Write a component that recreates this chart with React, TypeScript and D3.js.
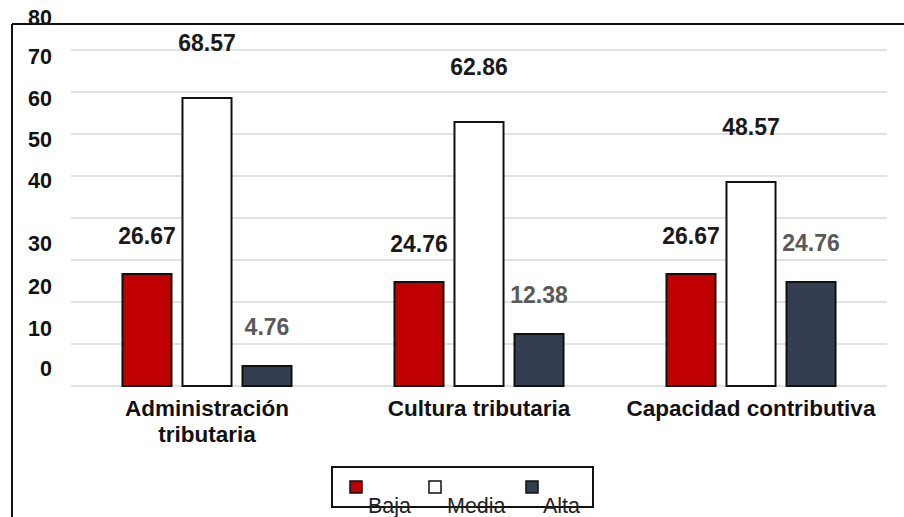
import React from "react";
import * as d3 from "d3";

const categories: string[][] = [
  ["Administración", "tributaria"],
  ["Cultura tributaria"],
  ["Capacidad contributiva"],
];
const series = ["Baja", "Media", "Alta"];
const baja = [26.67, 24.76, 26.67];
const media = [68.57, 62.86, 48.57];
const alta = [4.76, 12.38, 24.76];
const yTicks = [0, 10, 20, 30, 40, 50, 60, 70, 80];

const seriesValues = [baja, media, alta];
const colors = ["#C00000", "#FFFFFF", "#333F50"];
const labelColors = ["#1a1a1a", "#1a1a1a", "#595959"];
// vertical lift of value labels above bar tops, per series
const labelLift = [38, 55, 39];
// tick label shifts above their gridline (as in the reference)
const tickShift = [18, 16, 16, 17, 38, 37, 36, 36, 33];

const W = 904;
const H = 517;
const FONT = "'Liberation Sans', Arial, Helvetica, sans-serif";

export default function App() {
  const y = d3.scaleLinear().domain([0, 80]).range([386, 50]);
  const x0 = d3
    .scaleBand<number>()
    .domain(d3.range(categories.length))
    .range([71, 887])
    .padding(0);
  const x1 = d3
    .scaleBand<number>()
    .domain(d3.range(series.length))
    .range([0, x0.bandwidth()])
    .paddingInner(0.183)
    .paddingOuter(0.858);

  return (
    <svg
      width={W}
      height={H}
      style={{ position: "absolute", left: 0, top: 0, background: "#fff" }}
      fontFamily={FONT}
    >
      <rect x={0} y={0} width={W} height={H} fill="#fff" />
      {/* gridlines */}
      {yTicks.map((t) => (
        <line
          key={"g" + t}
          x1={71}
          x2={887}
          y1={y(t)}
          y2={y(t)}
          stroke="#d9d9d9"
          strokeWidth={1.5}
        />
      ))}
      {/* frame */}
      <line x1={12} x2={W} y1={24} y2={24} stroke="#111" strokeWidth={2} />
      <line x1={12} x2={12} y1={24} y2={H} stroke="#111" strokeWidth={2} />
      {/* y tick labels */}
      {yTicks.map((t, i) => (
        <text
          key={"t" + t}
          x={52}
          y={y(t) - tickShift[i] + 7.5}
          textAnchor="end"
          fontSize={21.5}
          fontWeight="bold"
          fill="#111"
        >
          {t}
        </text>
      ))}
      {/* bars */}
      {categories.map((c, ci) =>
        seriesValues.map((vals, si) => {
          const v = vals[ci];
          const bx = (x0(ci) as number) + (x1(si) as number);
          return (
            <rect
              key={"b" + ci + "-" + si}
              x={bx}
              y={y(v)}
              width={x1.bandwidth()}
              height={y(0) - y(v)}
              fill={colors[si]}
              stroke="#111"
              strokeWidth={2}
            />
          );
        })
      )}
      {/* value labels */}
      {categories.map((c, ci) =>
        seriesValues.map((vals, si) => {
          const v = vals[ci];
          const cx = (x0(ci) as number) + (x1(si) as number) + x1.bandwidth() / 2;
          return (
            <text
              key={"l" + ci + "-" + si}
              x={cx}
              y={y(v) - labelLift[si] + 8}
              textAnchor="middle"
              fontSize={23}
              fontWeight="bold"
              fill={labelColors[si]}
            >
              {v.toFixed(2)}
            </text>
          );
        })
      )}
      {/* category labels */}
      {categories.map((lines, ci) => {
        const cx = (x0(ci) as number) + x0.bandwidth() / 2;
        return (
          <text
            key={"c" + ci}
            textAnchor="middle"
            fontSize={22.5}
            fontWeight="bold"
            fill="#111"
          >
            {lines.map((ln, li) => (
              <tspan key={li} x={cx} y={416 + li * 26}>
                {ln}
              </tspan>
            ))}
          </text>
        );
      })}
      {/* legend */}
      <rect
        x={332}
        y={467}
        width={261}
        height={40}
        fill="#fff"
        stroke="#111"
        strokeWidth={2}
      />
      {series.map((s, si) => {
        const mx = [350, 429, 526][si];
        const tx = [368, 447, 543][si];
        return (
          <g key={"lg" + s}>
            <rect
              x={mx}
              y={481}
              width={12}
              height={12}
              fill={colors[si]}
              stroke="#111"
              strokeWidth={1.5}
            />
            <text x={tx} y={513} fontSize={21.5} fill="#222">
              {s}
            </text>
          </g>
        );
      })}
    </svg>
  );
}
